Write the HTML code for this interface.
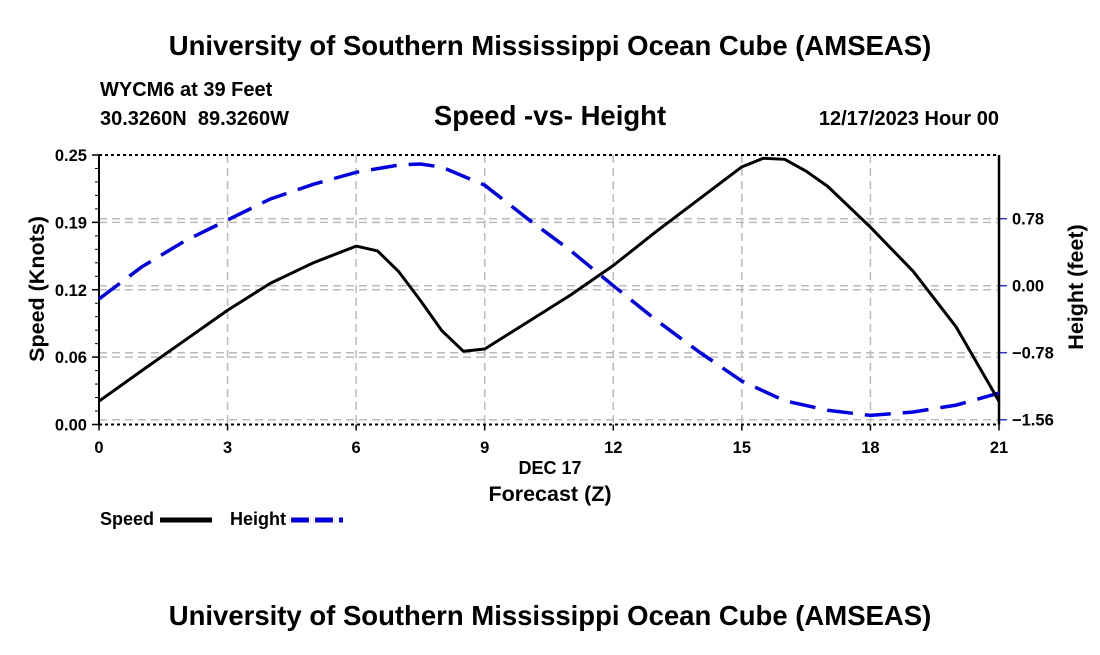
<!DOCTYPE html>
<html><head><meta charset="utf-8"><style>
body{margin:0;background:#fff;width:1100px;height:650px;overflow:hidden}
svg text{font-family:"Liberation Sans",sans-serif;font-weight:bold;fill:#000;white-space:pre}
</style></head><body>
<svg id="c" width="1100" height="650">
<text x="550" y="55" font-size="27.5" text-anchor="middle">University of Southern Mississippi Ocean Cube (AMSEAS)</text>
<text x="100" y="96" font-size="20">WYCM6 at 39 Feet</text>
<text x="100" y="125" font-size="20">30.3260N  89.3260W</text>
<text x="550" y="125" font-size="27.5" text-anchor="middle">Speed -vs- Height</text>
<text x="999" y="125" font-size="20" text-anchor="end">12/17/2023 Hour 00</text>
<g id="grid"></g>
<g id="axes"></g>
<g id="series"></g>
<text x="550" y="474" font-size="18" text-anchor="middle">DEC 17</text>
<text x="550" y="501" font-size="21.5" text-anchor="middle">Forecast (Z)</text>
<text transform="translate(44,289) rotate(-90)" font-size="21.5" text-anchor="middle">Speed (Knots)</text>
<text transform="translate(1083,287) rotate(-90)" font-size="21.5" text-anchor="middle">Height (feet)</text>
<g>
<text x="100" y="525" font-size="18">Speed</text>
<line x1="160" y1="520" x2="212" y2="520" stroke="#000" stroke-width="5"/>
<text x="230" y="525" font-size="18">Height</text>
<line x1="291" y1="520" x2="343" y2="520" stroke="#0000e0" stroke-width="5" stroke-dasharray="18,6"/>
</g>
<text x="550" y="625" font-size="27.5" text-anchor="middle">University of Southern Mississippi Ocean Cube (AMSEAS)</text>
</svg>
<script>
const xTicks=[0,3,6,9,12,15,18,21];
const leftTicks=[0,0.0625,0.125,0.1875,0.25];
const leftTickLabels=["0.00","0.06","0.12","0.19","0.25"];
const rightTicks=[-1.56,-0.78,0,0.78];
const rightTickLabels=["\u22121.56","\u22120.78","0.00","0.78"];
const speedHours=[0,1,2,3,4,5,6,6.5,7,7.5,8,8.5,9,10,11,12,13,14,15,15.5,16,16.5,17,18,19,20,21];
const speedValues=[0.0216,0.050,0.078,0.106,0.131,0.150,0.1655,0.161,0.1415,0.115,0.087,0.068,0.070,0.095,0.120,0.1475,0.179,0.209,0.239,0.247,0.246,0.235,0.221,0.183,0.142,0.0905,0.0216];
const heightHours=[0,1,2,3,4,5,6,7,7.5,8,9,10,11,12,13,14,15,16,17,18,19,20,21];
const heightValues=[-0.155,0.22,0.52,0.765,1.01,1.18,1.32,1.405,1.417,1.38,1.17,0.78,0.41,0,-0.40,-0.77,-1.11,-1.34,-1.45,-1.51,-1.47,-1.39,-1.25];
const NS="http://www.w3.org/2000/svg";
const X0=99,X1=999,YT=155,YB=424.5;
const xS=t=>X0+t/21*(X1-X0);
const yL=v=>YB-v/0.25*(YB-YT);
const yR=h=>285.7-h*85.9;
function mk(parent,tag,attrs){const e=document.createElementNS(NS,tag);for(const k in attrs)e.setAttribute(k,attrs[k]);document.getElementById(parent).appendChild(e);return e;}
xTicks.forEach((t,i)=>{
 if(i>0&&i<xTicks.length-1){const g=mk('grid','line',{x1:xS(t),x2:xS(t),y1:YT,y2:YB,stroke:'#bbb','stroke-width':1.5,'stroke-dasharray':'8,5'});
 
 }
 const tk=mk('axes','line',{x1:xS(t),x2:xS(t),y1:YB,y2:YB+6,stroke:'#000','stroke-width':1.5});
 
 
 const tx=mk('axes','text',{x:xS(t),y:453,'font-size':16.5,'text-anchor':'middle'});tx.textContent=t;
 
 
});
leftTicks.forEach((v,i)=>{
 if(i>0&&i<leftTicks.length-1){const g=mk('grid','line',{x1:X0,x2:X1,y1:yL(v),y2:yL(v),stroke:'#bbb','stroke-width':1.5,'stroke-dasharray':'8,5'});
 
 }
 const tk=mk('axes','line',{x1:X0-7,x2:X0,y1:yL(v),y2:yL(v),stroke:'#000','stroke-width':1.5});
 
 
 const tx=mk('axes','text',{x:X0-12,y:yL(v)+6,'font-size':16.5,'text-anchor':'end'});tx.textContent=leftTickLabels[i];
 
 
});
rightTicks.forEach((h,i)=>{
 const g=mk('grid','line',{x1:X0,x2:X1,y1:yR(h),y2:yR(h),stroke:'#bbb','stroke-width':1.5,'stroke-dasharray':'8,5'});
 
 
 const tk=mk('axes','line',{x1:X1,x2:X1+8,y1:yR(h),y2:yR(h),stroke:'#3333cc','stroke-width':1.5});
 
 
 const tx=mk('axes','text',{x:1012,y:yR(h)+6,'font-size':16.5});tx.textContent=rightTickLabels[i];
 
 
});
for(let v=0;v<=0.25001;v+=0.0125){const m=mk('axes','line',{x1:X0-4,x2:X0,y1:yL(v),y2:yL(v),stroke:'#000','stroke-width':1});
 
 }
[['top-border',YT],['bottom-border',YB]].forEach(([n,y])=>{const b=mk('axes','line',{x1:X0,x2:X1,y1:y,y2:y,stroke:'#000','stroke-width':2,'stroke-dasharray':'3,3'});
 
 });
const la=mk('axes','line',{x1:X0,x2:X0,y1:YT,y2:YB,stroke:'#000','stroke-width':2});


const ra=mk('axes','line',{x1:X1,x2:X1,y1:YT,y2:YB,stroke:'#000','stroke-width':2.5});


const hp=mk('series','polyline',{points:heightHours.map((t,i)=>xS(t)+','+yR(heightValues[i])).join(' '),fill:'none',stroke:'#0000e0','stroke-width':3.5,'stroke-dasharray':'26,12'});


const sp=mk('series','polyline',{points:speedHours.map((t,i)=>xS(t)+','+yL(speedValues[i])).join(' '),fill:'none',stroke:'#000','stroke-width':3,'stroke-linejoin':'round'});


</script>
</body></html>
